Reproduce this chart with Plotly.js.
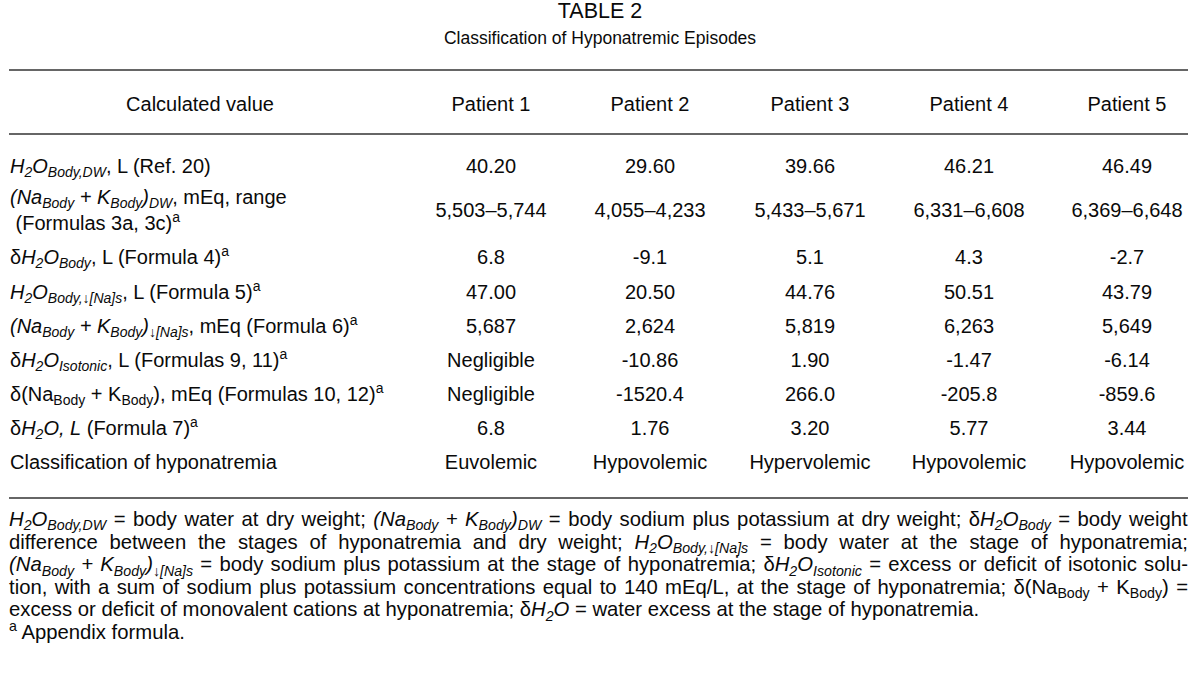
<!DOCTYPE html>
<html>
<head>
<meta charset="utf-8">
<script src="https://cdn.plot.ly/plotly-3.0.1.min.js"></script>
<style>html,body{margin:0;padding:0;background:#fff;}</style>
</head>
<body>
<div id="chart" style="width:1200px;height:689px;"></div>
<script>
// ---- data ----
const tableNumber = "TABLE 2";
const tableTitle = "Classification of Hyponatremic Episodes";
const headerLabel = "Calculated value";
const patients = ["Patient 1", "Patient 2", "Patient 3", "Patient 4", "Patient 5"];
const rowLabels = [
  "<i>H<sub>2</sub>O<sub>Body,DW</sub></i>, L (Ref. 20)",
  "<i>(Na<sub>Body</sub> + K<sub>Body</sub>)<sub>DW</sub></i>, mEq, range<br>\u00a0(Formulas 3a, 3c)<sup>a</sup>",
  "δ<i>H<sub>2</sub>O<sub>Body</sub></i>, L (Formula 4)<sup>a</sup>",
  "<i>H<sub>2</sub>O<sub>Body,↓[Na]s</sub></i>, L (Formula 5)<sup>a</sup>",
  "<i>(Na<sub>Body</sub> + K<sub>Body</sub>)<sub>↓[Na]s</sub></i>, mEq (Formula 6)<sup>a</sup>",
  "δ<i>H<sub>2</sub>O<sub>Isotonic</sub></i>, L (Formulas 9, 11)<sup>a</sup>",
  "δ(Na<sub>Body</sub> + K<sub>Body</sub>), mEq (Formulas 10, 12)<sup>a</sup>",
  "δ<i>H<sub>2</sub>O, L</i> (Formula 7)<sup>a</sup>",
  "Classification of hyponatremia"
];
const patient1 = ["40.20", "5,503–5,744", "6.8", "47.00", "5,687", "Negligible", "Negligible", "6.8", "Euvolemic"];
const patient2 = ["29.60", "4,055–4,233", "-9.1", "20.50", "2,624", "-10.86", "-1520.4", "1.76", "Hypovolemic"];
const patient3 = ["39.66", "5,433–5,671", "5.1", "44.76", "5,819", "1.90", "266.0", "3.20", "Hypervolemic"];
const patient4 = ["46.21", "6,331–6,608", "4.3", "50.51", "6,263", "-1.47", "-205.8", "5.77", "Hypovolemic"];
const patient5 = ["46.49", "6,369–6,648", "-2.7", "43.79", "5,649", "-6.14", "-859.6", "3.44", "Hypovolemic"];
const footnoteLines = [
  "<i>H<sub>2</sub>O<sub>Body,DW</sub></i> = body water at dry weight; <i>(Na<sub>Body</sub> + K<sub>Body</sub>)<sub>DW</sub></i> = body sodium plus potassium at dry weight; δ<i>H<sub>2</sub>O<sub>Body</sub></i> = body weight",
  "difference between the stages of hyponatremia and dry weight; <i>H<sub>2</sub>O<sub>Body,↓[Na]s</sub></i> = body water at the stage of hyponatremia;",
  "<i>(Na<sub>Body</sub> + K<sub>Body</sub>)<sub>↓[Na]s</sub></i> = body sodium plus potassium at the stage of hyponatremia; δ<i>H<sub>2</sub>O<sub>Isotonic</sub></i> = excess or deficit of isotonic solu-",
  "tion, with a sum of sodium plus potassium concentrations equal to 140 mEq/L, at the stage of hyponatremia; δ(Na<sub>Body</sub> + K<sub>Body</sub>) =",
  "excess or deficit of monovalent cations at hyponatremia; δ<i>H<sub>2</sub>O</i> = water excess at the stage of hyponatremia.",
  "<sup>a</sup> Appendix formula."
];

// ---- layout geometry (pixel units on hidden axes) ----
const W = 1200, H = 689;
const FONT = "Liberation Sans, Arial, sans-serif";
const FS = 20;
const FOOT_FS = 20.3;
const TXT = "#0a0a0a";
const RULE = "#666666";
const leftX = 9, rightX = 1188;
const labelX = 10;
const headerLabelX = 200;
const colX = [491, 650, 810, 969, 1127];
const titleY = [13, 40];
const titleSizes = [21.5, 17.5];
const ruleY = [70, 134, 498];
const headerY = 106;
const rowY = [168, 212, 259, 294, 328, 362, 396, 430, 464];
const footY0 = 521, footGap = 22.6;
const justifyLines = 4;

function textTrace(name, xs, ys, texts, pos, sizes) {
  return {
    type: "scatter", mode: "text", name: name,
    x: xs, y: ys, text: texts, textposition: pos,
    textfont: {family: FONT, size: sizes, color: TXT},
    hoverinfo: "skip", cliponaxis: false, showlegend: false
  };
}

const traces = [];
// titles
traces.push(textTrace("title", [W / 2, W / 2], titleY, [tableNumber, tableTitle], "middle center", titleSizes));
// header row
traces.push(textTrace("header", [headerLabelX].concat(colX), new Array(colX.length + 1).fill(headerY),
  [headerLabel].concat(patients), "middle center", FS));
// row labels
traces.push(textTrace("labels", rowLabels.map(() => labelX), rowY, rowLabels, "middle right", FS));
// patient columns
[patient1, patient2, patient3, patient4, patient5].forEach((col, j) => {
  traces.push(textTrace(patients[j], col.map(() => colX[j]), rowY, col, "middle center", FS));
});
// footnotes: one paragraph block (first line's baseline anchored like a single middle-aligned line)
traces.push(textTrace("footnotes", [leftX], [footY0 - FOOT_FS / 2], [footnoteLines.join("<br>")],
  "bottom right", FOOT_FS));

const shapes = ruleY.map(y => ({
  type: "line", xref: "x", yref: "y", x0: leftX, x1: rightX, y0: y, y1: y,
  line: {color: RULE, width: 2}
}));

const layout = {
  width: W, height: H,
  margin: {l: 0, r: 0, t: 0, b: 0, pad: 0},
  paper_bgcolor: "#ffffff", plot_bgcolor: "#ffffff",
  xaxis: {visible: false, range: [0, W], fixedrange: true},
  yaxis: {visible: false, range: [H, 0], fixedrange: true},
  showlegend: false,
  shapes: shapes
};

Plotly.newPlot("chart", traces, layout, {staticPlot: true, displayModeBar: false}).then(gd => {
  // printed-paragraph setting for the footnote block: tight leading and justified lines
  const layers = gd.querySelectorAll(".scatterlayer .trace");
  const foot = layers[layers.length - 1];
  const t = foot.querySelector(".textpoint text");
  if (!t) return;
  const lines = Array.from(t.children).filter(n => n.classList && n.classList.contains("line"));
  const firstDy = lines.length ? parseFloat(lines[0].getAttribute("dy") || "0") : 0;
  lines.forEach((ln, k) => {
    if (k > 0) ln.setAttribute("dy", (firstDy + k * footGap) + "px");
  });
  lines.forEach((ln, k) => {
    if (k >= justifyLines) return;
    const w = ln.getBoundingClientRect().width;
    const spaces = (ln.textContent.match(/ /g) || []).length;
    if (spaces > 0) ln.style.wordSpacing = ((rightX - leftX - w) / spaces) + "px";
  });
});
</script>
</body>
</html>
